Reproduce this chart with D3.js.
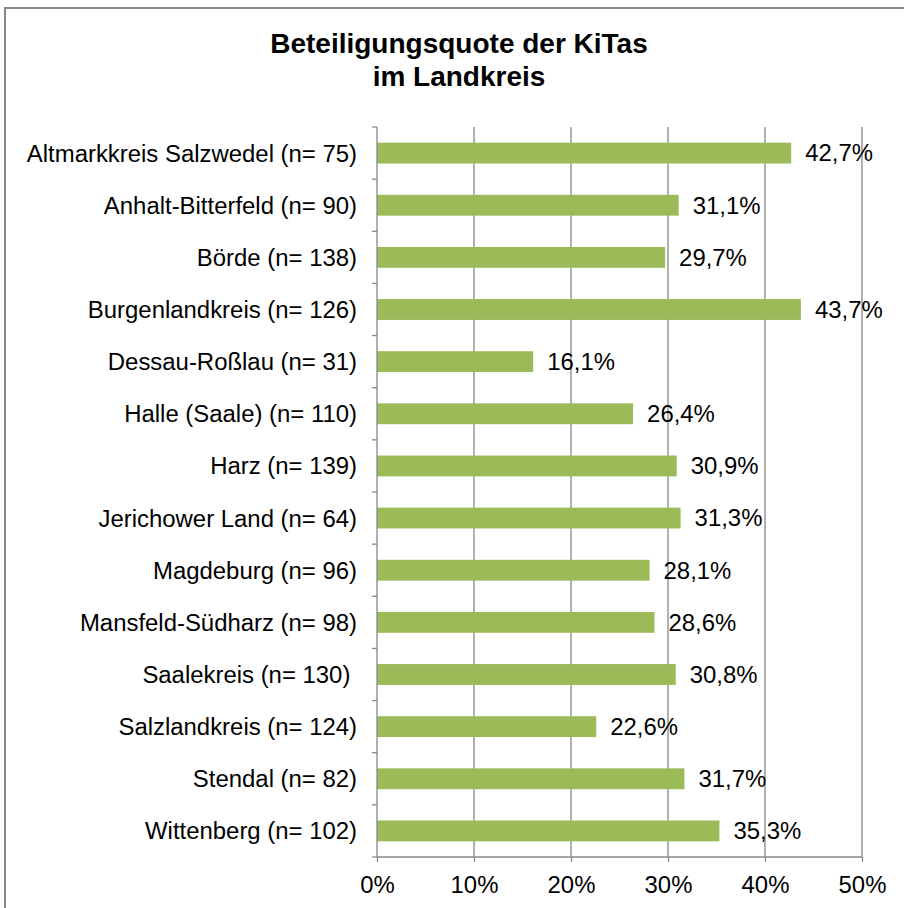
<!DOCTYPE html>
<html><head><meta charset="utf-8">
<script src="https://cdn.jsdelivr.net/npm/d3@7"></script>
<style>body{margin:0;background:#fff}svg{display:block;font-family:"Liberation Sans",Arial,sans-serif}</style>
</head><body>
<script>
const categories = ["Altmarkkreis Salzwedel (n= 75)","Anhalt-Bitterfeld (n= 90)","Börde (n= 138)","Burgenlandkreis (n= 126)","Dessau-Roßlau (n= 31)","Halle (Saale) (n= 110)","Harz (n= 139)","Jerichower Land (n= 64)","Magdeburg (n= 96)","Mansfeld-Südharz (n= 98)","Saalekreis (n= 130) ","Salzlandkreis (n= 124)","Stendal (n= 82)","Wittenberg (n= 102)"];
const values = [42.7,31.1,29.7,43.7,16.1,26.4,30.9,31.3,28.1,28.6,30.8,22.6,31.7,35.3];
const tickValues = [0,10,20,30,40,50];
const title = ["Beteiligungsquote der KiTas","im Landkreis"];

const W=904,H=908;
const FS=23, SX=1.04;
const svg=d3.select("body").append("svg").attr("width",W).attr("height",H);
svg.append("rect").attr("x",5).attr("y",8).attr("width",W+10).attr("height",H+10)
  .attr("fill","none").attr("stroke","#888").attr("stroke-width",2);

const x=d3.scaleLinear().domain([0,50]).range([377,862]);
const y=d3.scaleBand().domain(categories).range([127,857]).paddingInner(0.6).paddingOuter(0.3);
const yb=d3.scaleBand().domain(categories).range([127,857]);

svg.append("text").attr("text-anchor","middle")
  .attr("font-weight","bold").attr("font-size",28).attr("fill","#000")
  .selectAll("tspan").data(title).join("tspan").attr("x",459).attr("y",(d,i)=>53+i*33).text(d=>d);

// gridlines
svg.append("g").selectAll("line").data(tickValues.slice(1)).join("line")
  .attr("x1",d=>x(d)).attr("x2",d=>x(d)).attr("y1",127).attr("y2",857)
  .attr("stroke","#888").attr("stroke-width",1.3);

// bars
svg.append("g").selectAll("rect").data(values).join("rect")
  .attr("x",x(0)).attr("y",(d,i)=>y(categories[i])).attr("width",d=>x(d)-x(0)).attr("height",y.bandwidth())
  .attr("fill","#9BBB59");

// value labels
svg.append("g").selectAll("text").data(values).join("text")
  .attr("transform",(d,i)=>`translate(${x(d)+14},${y(categories[i])+y.bandwidth()/2}) scale(${SX},1)`)
  .attr("dy","0.36em")
  .attr("font-size",FS).attr("fill","#000")
  .text(d=>d3.format(".1f")(d).replace(".",",")+"%");

// x axis
const xa=svg.append("g").attr("transform","translate(0,857)")
  .call(d3.axisBottom(x).tickValues(tickValues).tickSize(5).tickFormat(d=>d+"%"));
xa.select(".domain").attr("stroke","#888").attr("stroke-width",1.3).attr("d","M377,0H862");
xa.selectAll(".tick line").attr("stroke","#888").attr("stroke-width",1.3);
xa.selectAll(".tick text").attr("font-size",FS).attr("fill","#000").attr("y",20).attr("dy","0.71em")
  .attr("transform",`scale(${SX},1)`)
  .attr("font-family","Liberation Sans, Arial, sans-serif");

// y axis
const ya=svg.append("g").attr("transform","translate(377,0)")
  .call(d3.axisLeft(y).tickSize(0).tickPadding(20));
ya.select(".domain").attr("stroke","#888").attr("stroke-width",1.3).attr("d","M0,127V857");
ya.selectAll(".tick text").attr("font-size",FS).attr("fill","#000").attr("dy","0.37em")
  .attr("x",-20/SX).attr("transform",`scale(${SX},1)`)
  .attr("font-family","Liberation Sans, Arial, sans-serif").style("white-space","pre");
// category boundary ticks
svg.append("g").selectAll("line").data(categories.concat([null])).join("line")
  .attr("x1",372).attr("x2",377)
  .attr("y1",(d,i)=>127+i*yb.bandwidth()).attr("y2",(d,i)=>127+i*yb.bandwidth())
  .attr("stroke","#888").attr("stroke-width",1.3);
</script>
</body></html>
